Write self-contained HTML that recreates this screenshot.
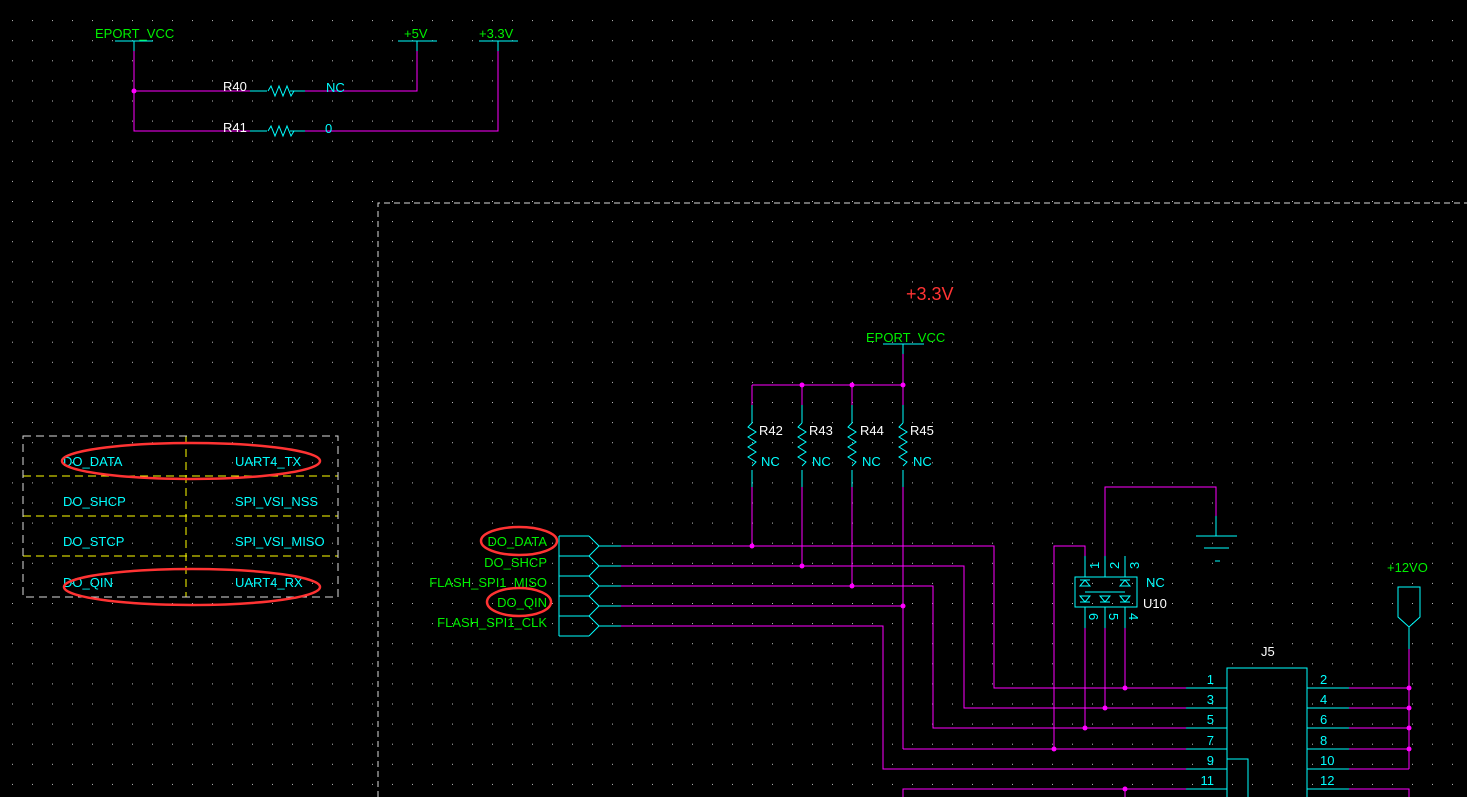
<!DOCTYPE html>
<html><head><meta charset="utf-8"><style>
html,body{margin:0;padding:0;background:#000;}
svg{display:block;}
text{font-family:"Liberation Sans","DejaVu Sans",sans-serif;font-size:13px;}
</style></head><body>
<svg width="1467" height="797" viewBox="0 0 1467 797" xmlns="http://www.w3.org/2000/svg">
<defs>
<pattern id="g" x="0" y="0" width="20" height="20.1" patternUnits="userSpaceOnUse">
<rect x="12" y="0" width="1" height="1" fill="#bbb"/>
</pattern>
</defs>
<rect width="1467" height="797" fill="#000"/>
<rect y="20" width="1467" height="797" fill="url(#g)"/>

<g fill="none" stroke-width="1" shape-rendering="crispEdges">
<path d="M134 51V131H250M134 91H250M305 91H417V51M305 131H498V51" stroke="#f0f"/>
<path d="M115 41H153M134 41V51M398 41H437M417 41V51M479 41H518M498 41V51" stroke="#0ff"/>
<path d="M250 91H267M305 91H290M250 131H267M305 131H290" stroke="#0ff"/>
</g>
<circle cx="134" cy="91" r="2.5" fill="#f0f"/>
<g fill="none" stroke="#0ff" stroke-width="1">
<path d="M268 91l3 -5 4 10 4 -10 4 10 4 -10 4 10 3 -5"/>
<path d="M268 131l3 -5 4 10 4 -10 4 10 4 -10 4 10 3 -5"/>
</g>
<text x="95" y="38" fill="#00f000">EPORT_VCC</text>
<text x="404" y="38" fill="#00f000">+5V</text>
<text x="479" y="38" fill="#00f000">+3.3V</text>
<text x="223" y="91" fill="#fff">R40</text>
<text x="223" y="132" fill="#fff">R41</text>
<text x="326" y="92" fill="#0ff">NC</text>
<text x="325" y="133" fill="#0ff">0</text>

<path d="M378 797V203H1467" fill="none" stroke="#ddd" stroke-dasharray="6,4" shape-rendering="crispEdges"/>

<g fill="none" stroke="#ffff00" stroke-dasharray="8,5" shape-rendering="crispEdges">
<path d="M23 476H338M23 516H338M23 556H338M186 436V597"/>
</g>
<rect x="23" y="436" width="315" height="161" fill="none" stroke="#ddd" stroke-dasharray="8,5" shape-rendering="crispEdges"/>
<g fill="#0ff">
<text x="63" y="466">DO_DATA</text><text x="235" y="466">UART4_TX</text>
<text x="63" y="506">DO_SHCP</text><text x="235" y="506">SPI_VSI_NSS</text>
<text x="63" y="546">DO_STCP</text><text x="235" y="546">SPI_VSI_MISO</text>
<text x="63" y="587">DO_QIN</text><text x="235" y="587">UART4_RX</text>
</g>
<ellipse cx="191" cy="461" rx="129" ry="18" fill="none" stroke="#f33" stroke-width="2.5"/>
<ellipse cx="192" cy="587" rx="128" ry="18" fill="none" stroke="#f33" stroke-width="2.5"/>

<text x="906" y="300" fill="#f33" style="font-size:18px">+3.3V</text>
<text x="866" y="342" fill="#00f000">EPORT_VCC</text>
<g fill="none" shape-rendering="crispEdges">
<path d="M883 344H924M903 344V354" stroke="#0ff"/>
<path d="M903 354V385M752 385H903M752 385V405M802 385V405M852 385V405M903 385V405" stroke="#f0f"/>
<path d="M752 405V423M802 405V423M852 405V423M903 405V423M752 470V487M802 470V487M852 470V487M903 470V487" stroke="#0ff"/>
<path d="M752 487V546M802 487V566M852 487V586M903 487V749" stroke="#f0f"/>
</g>
<g fill="none" stroke="#0ff">
<path d="M752 423l-4 4 8 5 -8 5 8 5 -8 5 8 5 -8 5 8 5 -4 4"/>
<path d="M802 423l-4 4 8 5 -8 5 8 5 -8 5 8 5 -8 5 8 5 -4 4"/>
<path d="M852 423l-4 4 8 5 -8 5 8 5 -8 5 8 5 -8 5 8 5 -4 4"/>
<path d="M903 423l-4 4 8 5 -8 5 8 5 -8 5 8 5 -8 5 8 5 -4 4"/>
</g>
<g fill="#fff"><text x="759" y="435">R42</text><text x="809" y="435">R43</text><text x="860" y="435">R44</text><text x="910" y="435">R45</text></g>
<g fill="#0ff"><text x="761" y="466">NC</text><text x="812" y="466">NC</text><text x="862" y="466">NC</text><text x="913" y="466">NC</text></g>

<g fill="none" stroke="#0ff" shape-rendering="crispEdges">
<path d="M559 536V636M559 536H589M559 556H589M559 576H589M559 596H589M559 616H589M559 636H589"/>
<path d="M599 546H621M599 566H621M599 586H621M599 606H621M599 626H621"/>
</g>
<path d="M589 536L599 546L589 556L599 566L589 576L599 586L589 596L599 606L589 616L599 626L589 636" fill="none" stroke="#0ff"/>
<g fill="#00f000" text-anchor="end">
<text x="547" y="546">DO_DATA</text>
<text x="547" y="567">DO_SHCP</text>
<text x="547" y="587">FLASH_SPI1_MISO</text>
<text x="547" y="607">DO_QIN</text>
<text x="547" y="627">FLASH_SPI1_CLK</text>
</g>
<ellipse cx="519" cy="541" rx="38" ry="14" fill="none" stroke="#f33" stroke-width="2.5"/>
<ellipse cx="519" cy="602" rx="32" ry="14" fill="none" stroke="#f33" stroke-width="2.5"/>

<g fill="none" stroke="#f0f" shape-rendering="crispEdges">
<path d="M621 546H994V688H1186"/>
<path d="M621 566H964V708H1186"/>
<path d="M621 586H933V728H1186"/>
<path d="M621 606H903"/>
<path d="M903 749H1186"/>
<path d="M621 626H883V769H1186"/>
<path d="M903 797V789H1186M1125 789V797"/>
<path d="M1085 628V728M1105 628V708M1125 628V688"/>
<path d="M1085 556V546H1054V749"/>
<path d="M1105 556V487H1216V516"/>
<path d="M1349 688H1409M1349 708H1409M1349 728H1409M1349 749H1409M1349 769H1409M1409 649V769M1349 789H1409V797"/>
</g>
<g fill="#f0f">
<circle cx="752" cy="546" r="2.5"/><circle cx="802" cy="566" r="2.5"/><circle cx="852" cy="586" r="2.5"/><circle cx="903" cy="606" r="2.5"/>
<circle cx="802" cy="385" r="2.5"/><circle cx="852" cy="385" r="2.5"/><circle cx="903" cy="385" r="2.5"/>
<circle cx="1125" cy="688" r="2.5"/><circle cx="1105" cy="708" r="2.5"/><circle cx="1085" cy="728" r="2.5"/><circle cx="1054" cy="749" r="2.5"/><circle cx="1125" cy="789" r="2.5"/>
<circle cx="1409" cy="688" r="2.5"/><circle cx="1409" cy="708" r="2.5"/><circle cx="1409" cy="728" r="2.5"/><circle cx="1409" cy="749" r="2.5"/>
</g>

<g fill="none" stroke="#0ff" shape-rendering="crispEdges">
<path d="M1216 516V536M1196 536H1237M1204 548H1229M1215 561H1220"/>
</g>

<g fill="none" stroke="#0ff" shape-rendering="crispEdges">
<rect x="1075" y="577" width="62" height="30"/>
<path d="M1085 556V577M1105 556V577M1125 556V577M1085 607V628M1105 607V628M1125 607V628"/>
<path d="M1085 592H1125"/>
</g>
<g fill="none" stroke="#0ff">
<path d="M1080 586L1085 580L1090 586ZM1080 580H1090M1120 586L1125 580L1130 586ZM1120 580H1130"/>
<path d="M1080 596L1085 602L1090 596ZM1080 602H1090M1100 596L1105 602L1110 596ZM1100 602H1110M1120 596L1125 602L1130 596ZM1120 602H1130"/>
</g>
<g fill="#0ff" style="font-size:12px">
<text transform="translate(1099,569) rotate(-90)">1</text>
<text transform="translate(1119,569) rotate(-90)">2</text>
<text transform="translate(1139,569) rotate(-90)">3</text>
<text transform="translate(1089,613) rotate(90)">6</text>
<text transform="translate(1109,613) rotate(90)">5</text>
<text transform="translate(1129,613) rotate(90)">4</text>
</g>
<text x="1146" y="587" fill="#0ff">NC</text>
<text x="1143" y="608" fill="#fff">U10</text>

<text x="1387" y="572" fill="#00f000">+12VO</text>
<path d="M1398 587H1420V617L1409 627L1398 617Z M1409 627V649" fill="none" stroke="#0ff"/>

<text x="1261" y="656" fill="#fff">J5</text>
<g fill="none" stroke="#0ff" shape-rendering="crispEdges">
<path d="M1227 797V668H1307V797"/>
<path d="M1227 759H1248V797"/>
<path d="M1186 688H1227M1186 708H1227M1186 728H1227M1186 749H1227M1186 769H1227M1186 789H1227"/>
<path d="M1307 688H1349M1307 708H1349M1307 728H1349M1307 749H1349M1307 769H1349M1307 789H1349"/>
</g>
<g fill="#0ff" text-anchor="end">
<text x="1214" y="684">1</text><text x="1214" y="704">3</text><text x="1214" y="724">5</text><text x="1214" y="745">7</text><text x="1214" y="765">9</text><text x="1214" y="785">11</text>
</g>
<g fill="#0ff">
<text x="1320" y="684">2</text><text x="1320" y="704">4</text><text x="1320" y="724">6</text><text x="1320" y="745">8</text><text x="1320" y="765">10</text><text x="1320" y="785">12</text>
</g>
</svg>
</body></html>
